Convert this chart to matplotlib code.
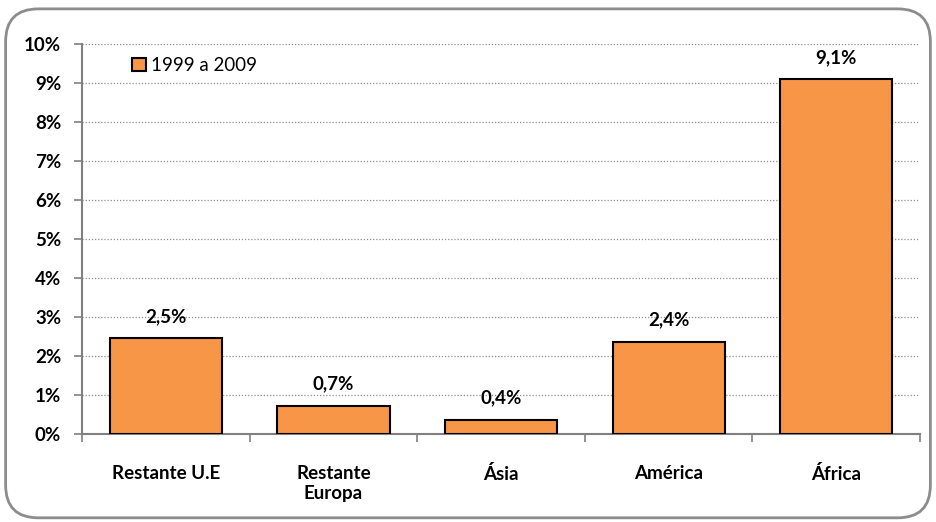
import matplotlib.pyplot as plt
from matplotlib.patches import FancyBboxPatch
from matplotlib.ticker import FuncFormatter

## Data
categories = ["Restante U.E", "Restante\nEuropa", "Ásia", "América", "África"]
values = [2.45, 0.72, 0.36, 2.36, 9.10]
labels = ["2,5%", "0,7%", "0,4%", "2,4%", "9,1%"]
series_name = "1999 a 2009"

bar_color = "#F79646"
axis_gray = "#808080"

plt.rcParams['font.family'] = ['Lato', 'DejaVu Sans']

fig = plt.figure(figsize=(9.36, 5.22), dpi=100)
ax = fig.add_axes([0.0876, 0.1686, 0.8954, 0.7471])

# rounded outer border
border = FancyBboxPatch((0.006, 0.008), 0.988, 0.975,
                        boxstyle="round,pad=0,rounding_size=0.035",
                        transform=fig.transFigure, facecolor="none",
                        edgecolor="#8C8C8C", linewidth=2, mutation_aspect=936/522)
fig.patches.append(border)

x = range(len(categories))
bars = ax.bar(x, values, width=0.67, color=bar_color, edgecolor="black",
              linewidth=1.5, label=series_name, zorder=3)

for xi, v, lab in zip(x, values, labels):
    ax.text(xi, v + 0.34, lab, ha="center", va="bottom",
            fontsize=13.5, fontweight="bold", color="black")

ax.set_xlim(-0.5, len(categories) - 0.5)
ax.set_ylim(0, 10)
ax.set_yticks(range(0, 11))
ax.yaxis.set_major_formatter(FuncFormatter(lambda v, p: f"{int(v)}%"))
ax.grid(axis="y", linestyle=(0, (1, 1.5)), color="#8C8C8C", linewidth=0.9, zorder=0)

ax.set_xticks(list(x))
ax.set_xticklabels(categories, fontsize=13.5, fontweight="bold", va="top",
                   linespacing=1.25)
ax.set_xticks([i - 0.5 for i in range(len(categories) + 1)], minor=True)
ax.tick_params(axis="x", which="major", length=0, pad=22)
ax.tick_params(axis="x", which="minor", length=6, color=axis_gray, width=1.2)
ax.tick_params(axis="y", length=6, color=axis_gray, width=1.2, pad=9)
for t in ax.get_yticklabels():
    t.set_fontweight("bold")
    t.set_fontsize(13.5)

for side in ["top", "right"]:
    ax.spines[side].set_visible(False)
for side in ["left", "bottom"]:
    ax.spines[side].set_color(axis_gray)
    ax.spines[side].set_linewidth(1.5)

leg = ax.legend(loc="upper left", bbox_to_anchor=(0.04, 1.01), frameon=False,
                fontsize=13.5, handlelength=0.75, handleheight=0.75, handletextpad=0.25)

fig.savefig("out.png", dpi=100)
